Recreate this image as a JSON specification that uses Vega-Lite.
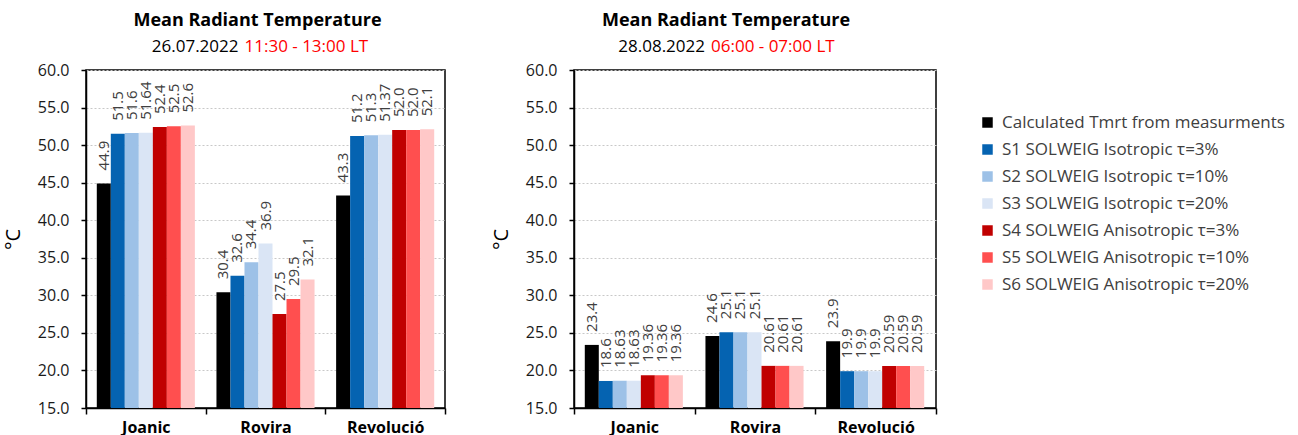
{
  "$schema": "https://vega.github.io/schema/vega-lite/v6.json",
  "background": "white",
  "padding": {"left": 2, "top": 10, "right": 0, "bottom": 0},
  "datasets": {
    "mrt": [
      {"day": "26.07.2022", "site": "Joanic", "series": "Calculated Tmrt from measurments", "value": 44.9, "label": "44.9"},
      {"day": "26.07.2022", "site": "Joanic", "series": "S1 SOLWEIG Isotropic τ=3%", "value": 51.5, "label": "51.5"},
      {"day": "26.07.2022", "site": "Joanic", "series": "S2 SOLWEIG Isotropic τ=10%", "value": 51.6, "label": "51.6"},
      {"day": "26.07.2022", "site": "Joanic", "series": "S3 SOLWEIG Isotropic τ=20%", "value": 51.64, "label": "51.64"},
      {"day": "26.07.2022", "site": "Joanic", "series": "S4 SOLWEIG Anisotropic τ=3%", "value": 52.4, "label": "52.4"},
      {"day": "26.07.2022", "site": "Joanic", "series": "S5 SOLWEIG Anisotropic τ=10%", "value": 52.5, "label": "52.5"},
      {"day": "26.07.2022", "site": "Joanic", "series": "S6 SOLWEIG Anisotropic τ=20%", "value": 52.6, "label": "52.6"},
      {"day": "26.07.2022", "site": "Rovira", "series": "Calculated Tmrt from measurments", "value": 30.4, "label": "30.4"},
      {"day": "26.07.2022", "site": "Rovira", "series": "S1 SOLWEIG Isotropic τ=3%", "value": 32.6, "label": "32.6"},
      {"day": "26.07.2022", "site": "Rovira", "series": "S2 SOLWEIG Isotropic τ=10%", "value": 34.4, "label": "34.4"},
      {"day": "26.07.2022", "site": "Rovira", "series": "S3 SOLWEIG Isotropic τ=20%", "value": 36.9, "label": "36.9"},
      {"day": "26.07.2022", "site": "Rovira", "series": "S4 SOLWEIG Anisotropic τ=3%", "value": 27.5, "label": "27.5"},
      {"day": "26.07.2022", "site": "Rovira", "series": "S5 SOLWEIG Anisotropic τ=10%", "value": 29.5, "label": "29.5"},
      {"day": "26.07.2022", "site": "Rovira", "series": "S6 SOLWEIG Anisotropic τ=20%", "value": 32.1, "label": "32.1"},
      {"day": "26.07.2022", "site": "Revolució", "series": "Calculated Tmrt from measurments", "value": 43.3, "label": "43.3"},
      {"day": "26.07.2022", "site": "Revolució", "series": "S1 SOLWEIG Isotropic τ=3%", "value": 51.2, "label": "51.2"},
      {"day": "26.07.2022", "site": "Revolució", "series": "S2 SOLWEIG Isotropic τ=10%", "value": 51.3, "label": "51.3"},
      {"day": "26.07.2022", "site": "Revolució", "series": "S3 SOLWEIG Isotropic τ=20%", "value": 51.37, "label": "51.37"},
      {"day": "26.07.2022", "site": "Revolució", "series": "S4 SOLWEIG Anisotropic τ=3%", "value": 52.0, "label": "52.0"},
      {"day": "26.07.2022", "site": "Revolució", "series": "S5 SOLWEIG Anisotropic τ=10%", "value": 52.0, "label": "52.0"},
      {"day": "26.07.2022", "site": "Revolució", "series": "S6 SOLWEIG Anisotropic τ=20%", "value": 52.1, "label": "52.1"},
      {"day": "28.08.2022", "site": "Joanic", "series": "Calculated Tmrt from measurments", "value": 23.4, "label": "23.4"},
      {"day": "28.08.2022", "site": "Joanic", "series": "S1 SOLWEIG Isotropic τ=3%", "value": 18.6, "label": "18.6"},
      {"day": "28.08.2022", "site": "Joanic", "series": "S2 SOLWEIG Isotropic τ=10%", "value": 18.63, "label": "18.63"},
      {"day": "28.08.2022", "site": "Joanic", "series": "S3 SOLWEIG Isotropic τ=20%", "value": 18.63, "label": "18.63"},
      {"day": "28.08.2022", "site": "Joanic", "series": "S4 SOLWEIG Anisotropic τ=3%", "value": 19.36, "label": "19.36"},
      {"day": "28.08.2022", "site": "Joanic", "series": "S5 SOLWEIG Anisotropic τ=10%", "value": 19.36, "label": "19.36"},
      {"day": "28.08.2022", "site": "Joanic", "series": "S6 SOLWEIG Anisotropic τ=20%", "value": 19.36, "label": "19.36"},
      {"day": "28.08.2022", "site": "Rovira", "series": "Calculated Tmrt from measurments", "value": 24.6, "label": "24.6"},
      {"day": "28.08.2022", "site": "Rovira", "series": "S1 SOLWEIG Isotropic τ=3%", "value": 25.1, "label": "25.1"},
      {"day": "28.08.2022", "site": "Rovira", "series": "S2 SOLWEIG Isotropic τ=10%", "value": 25.1, "label": "25.1"},
      {"day": "28.08.2022", "site": "Rovira", "series": "S3 SOLWEIG Isotropic τ=20%", "value": 25.1, "label": "25.1"},
      {"day": "28.08.2022", "site": "Rovira", "series": "S4 SOLWEIG Anisotropic τ=3%", "value": 20.61, "label": "20.61"},
      {"day": "28.08.2022", "site": "Rovira", "series": "S5 SOLWEIG Anisotropic τ=10%", "value": 20.61, "label": "20.61"},
      {"day": "28.08.2022", "site": "Rovira", "series": "S6 SOLWEIG Anisotropic τ=20%", "value": 20.61, "label": "20.61"},
      {"day": "28.08.2022", "site": "Revolució", "series": "Calculated Tmrt from measurments", "value": 23.9, "label": "23.9"},
      {"day": "28.08.2022", "site": "Revolució", "series": "S1 SOLWEIG Isotropic τ=3%", "value": 19.9, "label": "19.9"},
      {"day": "28.08.2022", "site": "Revolució", "series": "S2 SOLWEIG Isotropic τ=10%", "value": 19.9, "label": "19.9"},
      {"day": "28.08.2022", "site": "Revolució", "series": "S3 SOLWEIG Isotropic τ=20%", "value": 19.9, "label": "19.9"},
      {"day": "28.08.2022", "site": "Revolució", "series": "S4 SOLWEIG Anisotropic τ=3%", "value": 20.59, "label": "20.59"},
      {"day": "28.08.2022", "site": "Revolució", "series": "S5 SOLWEIG Anisotropic τ=10%", "value": 20.59, "label": "20.59"},
      {"day": "28.08.2022", "site": "Revolució", "series": "S6 SOLWEIG Anisotropic τ=20%", "value": 20.59, "label": "20.59"}
    ]
  },
  "spacing": 43,
  "hconcat": [
    {
      "title": {"text": "Mean Radiant Temperature", "dx": -8, "offset": 8},
      "width": 359,
      "height": 338,
      "layer": [
        {
          "data": {"name": "mrt"},
          "transform": [{"filter": "datum.day == '26.07.2022'"}],
          "encoding": {
            "x": {"field": "site", "type": "nominal", "scale": {"domain": ["Joanic", "Rovira", "Revolució"], "paddingInner": 0, "paddingOuter": 0}, "axis": {"title": null, "labelAngle": 0, "tickBand": "extent"}},
            "xOffset": {"field": "series", "type": "nominal", "scale": {"domain": ["Calculated Tmrt from measurments", "S1 SOLWEIG Isotropic τ=3%", "S2 SOLWEIG Isotropic τ=10%", "S3 SOLWEIG Isotropic τ=20%", "S4 SOLWEIG Anisotropic τ=3%", "S5 SOLWEIG Anisotropic τ=10%", "S6 SOLWEIG Anisotropic τ=20%"], "paddingInner": 0, "paddingOuter": 0.77}},
            "y": {"field": "value", "type": "quantitative", "scale": {"domain": [15, 60], "zero": false, "nice": false}, "axis": {"title": "°C", "values": [15, 20, 25, 30, 35, 40, 45, 50, 55, 60], "format": ".1f", "labelOverlap": false}}
          },
          "layer": [
            {
              "mark": {"type": "bar"},
              "encoding": {
                "y2": {"datum": 15},
                "color": {"field": "series", "type": "nominal", "scale": {"domain": ["Calculated Tmrt from measurments", "S1 SOLWEIG Isotropic τ=3%", "S2 SOLWEIG Isotropic τ=10%", "S3 SOLWEIG Isotropic τ=20%", "S4 SOLWEIG Anisotropic τ=3%", "S5 SOLWEIG Anisotropic τ=10%", "S6 SOLWEIG Anisotropic τ=20%"], "range": ["#000000", "#0563B1", "#9DC1E7", "#DAE5F5", "#C00000", "#FF4F4F", "#FFC8C8"]}, "legend": {"title": null, "orient": "none", "legendX": 893, "legendY": 44}}
              }
            },
            {
              "mark": {"type": "text", "angle": 270, "align": "left", "baseline": "middle", "dx": 13, "fontSize": 15, "color": "#404040", "font": "Open Sans"},
              "encoding": {"text": {"field": "label"}}
            }
          ]
        },
        {
          "data": {"values": [{"date": "26.07.2022", "time": "11:30 - 13:00 LT"}]},
          "encoding": {
            "x": {"datum": "Rovira", "type": "nominal", "axis": {"title": null, "labelAngle": 0, "tickBand": "extent"}},
            "y": {"datum": 63.1, "type": "quantitative", "axis": {"title": "°C", "values": [15, 20, 25, 30, 35, 40, 45, 50, 55, 60], "format": ".1f", "labelOverlap": false}}
          },
          "layer": [
            {"mark": {"type": "text", "align": "right", "baseline": "middle", "dx": -27, "fontSize": 17, "font": "Open Sans", "color": "#000000"}, "encoding": {"text": {"field": "date"}}},
            {"mark": {"type": "text", "align": "left", "baseline": "middle", "dx": -21, "fontSize": 17, "font": "Open Sans", "color": "#FF0000"}, "encoding": {"text": {"field": "time"}}}
          ]
        }
      ]
    },
    {
      "title": {"text": "Mean Radiant Temperature", "dx": -29, "offset": 8},
      "width": 362,
      "height": 338,
      "layer": [
        {
          "data": {"name": "mrt"},
          "transform": [{"filter": "datum.day == '28.08.2022'"}],
          "encoding": {
            "x": {"field": "site", "type": "nominal", "scale": {"domain": ["Joanic", "Rovira", "Revolució"], "paddingInner": 0, "paddingOuter": 0}, "axis": {"title": null, "labelAngle": 0, "tickBand": "extent"}},
            "xOffset": {"field": "series", "type": "nominal", "scale": {"domain": ["Calculated Tmrt from measurments", "S1 SOLWEIG Isotropic τ=3%", "S2 SOLWEIG Isotropic τ=10%", "S3 SOLWEIG Isotropic τ=20%", "S4 SOLWEIG Anisotropic τ=3%", "S5 SOLWEIG Anisotropic τ=10%", "S6 SOLWEIG Anisotropic τ=20%"], "paddingInner": 0, "paddingOuter": 0.77}},
            "y": {"field": "value", "type": "quantitative", "scale": {"domain": [15, 60], "zero": false, "nice": false}, "axis": {"title": "°C", "values": [15, 20, 25, 30, 35, 40, 45, 50, 55, 60], "format": ".1f", "labelOverlap": false}}
          },
          "layer": [
            {
              "mark": {"type": "bar"},
              "encoding": {
                "y2": {"datum": 15},
                "color": {"field": "series", "type": "nominal", "scale": {"domain": ["Calculated Tmrt from measurments", "S1 SOLWEIG Isotropic τ=3%", "S2 SOLWEIG Isotropic τ=10%", "S3 SOLWEIG Isotropic τ=20%", "S4 SOLWEIG Anisotropic τ=3%", "S5 SOLWEIG Anisotropic τ=10%", "S6 SOLWEIG Anisotropic τ=20%"], "range": ["#000000", "#0563B1", "#9DC1E7", "#DAE5F5", "#C00000", "#FF4F4F", "#FFC8C8"]}}
              }
            },
            {
              "mark": {"type": "text", "angle": 270, "align": "left", "baseline": "middle", "dx": 13, "fontSize": 15, "color": "#404040", "font": "Open Sans"},
              "encoding": {"text": {"field": "label"}}
            }
          ]
        },
        {
          "data": {"values": [{"date": "28.08.2022", "time": "06:00 - 07:00 LT"}]},
          "encoding": {
            "x": {"datum": "Rovira", "type": "nominal", "axis": {"title": null, "labelAngle": 0, "tickBand": "extent"}},
            "y": {"datum": 63.1, "type": "quantitative", "axis": {"title": "°C", "values": [15, 20, 25, 30, 35, 40, 45, 50, 55, 60], "format": ".1f", "labelOverlap": false}}
          },
          "layer": [
            {"mark": {"type": "text", "align": "right", "baseline": "middle", "dx": -50, "fontSize": 17, "font": "Open Sans", "color": "#000000"}, "encoding": {"text": {"field": "date"}}},
            {"mark": {"type": "text", "align": "left", "baseline": "middle", "dx": -44, "fontSize": 17, "font": "Open Sans", "color": "#FF0000"}, "encoding": {"text": {"field": "time"}}}
          ]
        }
      ]
    }
  ],
  "config": {
    "font": "Open Sans",
    "view": {"stroke": "#000000", "strokeWidth": 1.5},
    "title": {"fontSize": 18, "fontWeight": "bold", "font": "Open Sans", "color": "#000000", "anchor": "middle"},
    "axis": {"domainColor": "#000000", "domainWidth": 1.5, "tickColor": "#000000", "tickWidth": 1.5, "labelColor": "#1a1a1a", "labelFont": "Open Sans", "labelFontSize": 16, "labelOverlap": false, "titleFont": "Open Sans", "titleFontWeight": "normal", "titleColor": "#000000"},
    "axisX": {"grid": false, "tickSize": 6, "labelFontWeight": "bold", "labelColor": "#000000", "labelPadding": 5},
    "axisY": {"grid": true, "gridColor": "#c8c8c8", "gridDash": [2, 2], "gridWidth": 1, "tickSize": 5, "labelPadding": 12, "titleFontSize": 20, "titlePadding": 14},
    "legend": {"labelFont": "Open Sans", "labelFontSize": 17, "labelColor": "#404040", "symbolType": "square", "symbolSize": 110, "symbolStrokeWidth": 0, "rowPadding": 9, "labelLimit": 400, "labelOffset": 6}
  }
}
